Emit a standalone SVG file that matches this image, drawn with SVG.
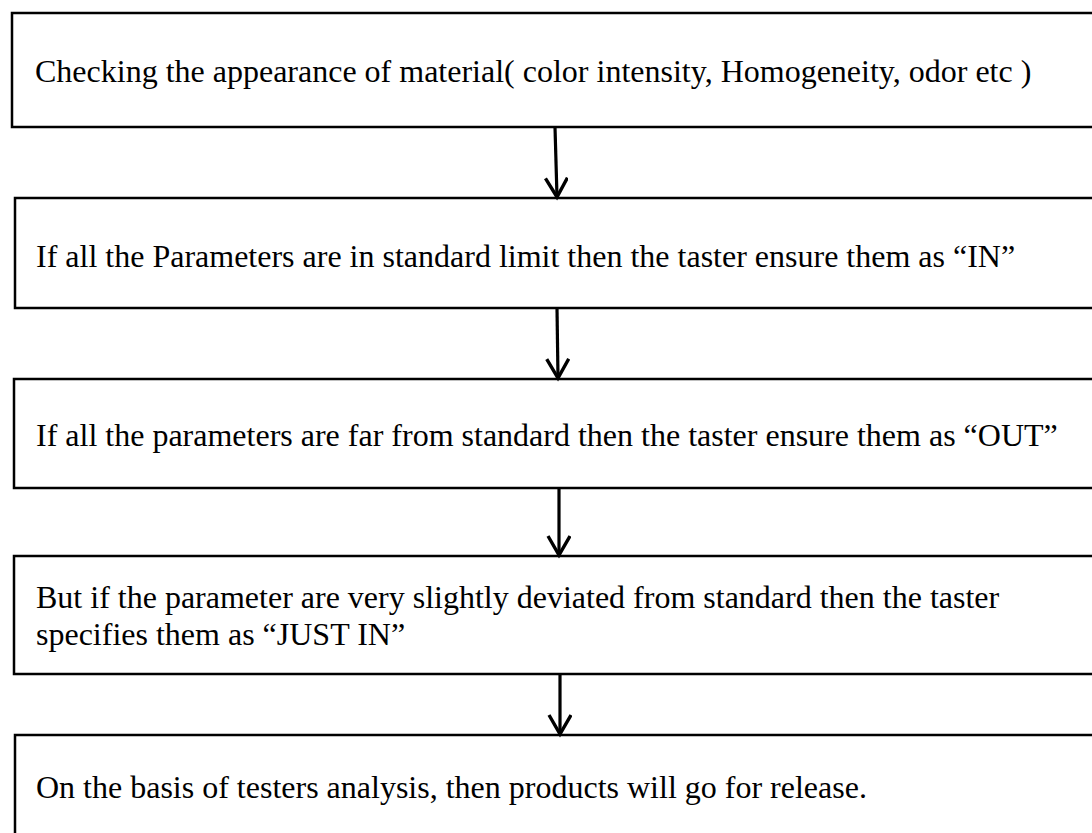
<svg xmlns="http://www.w3.org/2000/svg" width="1092" height="833" viewBox="0 0 1092 833">
  <style>
    .box { fill: #ffffff; stroke: #000000; stroke-width: 2.5; }
    .label { font-family: "Liberation Serif", "Times New Roman", serif; font-size: 32px; fill: #000000; }
    .link { stroke: #000000; stroke-width: 3.2; fill: none; }
  </style>
  <defs>
    <!-- open "V" arrowhead, drawn in user units so every connector gets the same size -->
    <marker id="arrowhead" markerWidth="28" markerHeight="28" refX="20" refY="12" orient="auto" markerUnits="userSpaceOnUse" viewBox="0 0 28 28">
      <path d="M1,1 L20,12 L1,23" fill="none" stroke="#000000" stroke-width="3.4" stroke-linejoin="miter"/>
    </marker>
  </defs>
  <rect width="1092" height="833" fill="#ffffff"/>

  <g id="step-appearance">
    <rect class="box" x="12" y="13" width="1100" height="114"/>
    <text class="label" x="35" y="82">Checking the appearance of material( color intensity, Homogeneity, odor etc )</text>
  </g>

  <g id="step-in">
    <rect class="box" x="15" y="198" width="1100" height="110"/>
    <text class="label" x="36" y="267">If all the Parameters are in standard limit then the taster ensure them as “IN”</text>
  </g>

  <g id="step-out">
    <rect class="box" x="14" y="379" width="1100" height="109"/>
    <text class="label" x="36" y="446">If all the parameters are far from standard then the taster ensure them as “OUT”</text>
  </g>

  <g id="step-just-in">
    <rect class="box" x="14" y="556" width="1100" height="118"/>
    <text class="label" x="36" y="608">But if the parameter are very slightly deviated from standard then the taster</text>
    <text class="label" x="36" y="645">specifies them as “JUST IN”</text>
  </g>

  <g id="step-release">
    <rect class="box" x="15" y="735" width="1100" height="120"/>
    <text class="label" x="36" y="798">On the basis of testers analysis, then products will go for release.</text>
  </g>

  <g id="connectors">
    <line class="link" x1="555" y1="127" x2="557" y2="197" marker-end="url(#arrowhead)"/>
    <line class="link" x1="557" y1="308" x2="558" y2="378" marker-end="url(#arrowhead)"/>
    <line class="link" x1="559" y1="488" x2="559" y2="555" marker-end="url(#arrowhead)"/>
    <line class="link" x1="560" y1="674" x2="560" y2="734" marker-end="url(#arrowhead)"/>
  </g>
</svg>
